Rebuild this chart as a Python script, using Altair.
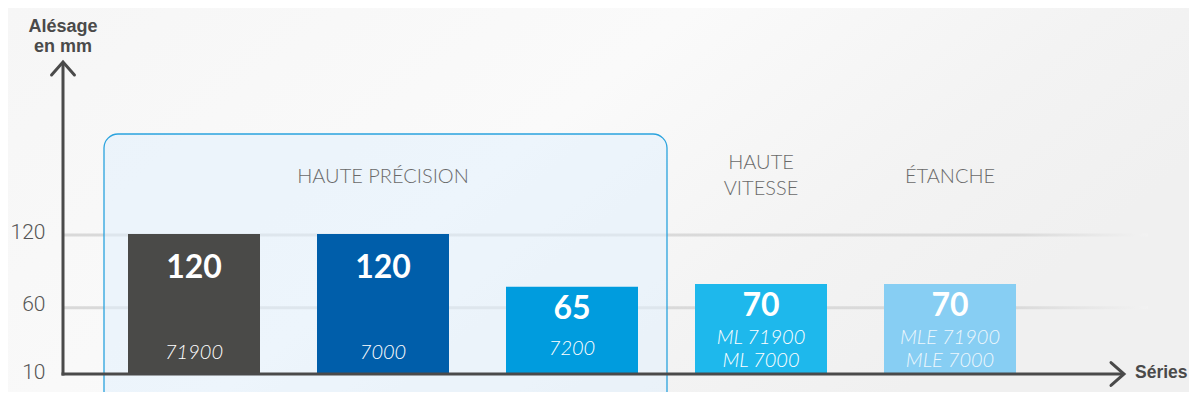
import altair as alt
import pandas as pd

# ---- data ----
series = ["71900", "7000", "7200", "ML 71900\nML 7000", "MLE 71900\nMLE 7000"]
alesage = [120, 120, 65, 70, 70]
bar_colors = ["#4a4a48", "#005eaa", "#009cde", "#1eb8ec", "#87cef3"]
groups = ["HAUTE PRÉCISION", "HAUTE\nVITESSE", "ÉTANCHE"]
group_anchor = ["7000", "ML 71900\nML 7000", "MLE 71900\nMLE 7000"]
y_ticks = [10, 60, 120]
grid_values = [60, 120]
y_title = "Alésage\nen mm"
x_title = "Séries"

bars_df = pd.DataFrame({"series": series, "value": alesage})
groups_df = pd.DataFrame({"group": groups, "anchor": group_anchor})
grid_df = pd.DataFrame({"value": grid_values})
one = pd.DataFrame({"k": [0]})

W, H = 1126, 384
AX = "#4a4a4a"

# the reference axis is not linear (10->60 and 60->120 have nearly equal spacing)
yscale = alt.Scale(domain=[10, 60, 65, 70, 120],
                   range=[366, 298.7, 278.7, 276, 226], zero=False, nice=False)
yaxis = alt.Axis(values=y_ticks, domain=False, ticks=False, grid=False, title=None,
                 labelFont="Roboto", labelFontWeight=300, labelFontSize=21,
                 labelColor="#555555", labelPadding=18, labelOffset=-2, zindex=2)
xscale = alt.Scale(domain=series, range=[65, 953], paddingInner=57 / 189, paddingOuter=0)

Y = alt.Y("value:Q", scale=yscale, axis=yaxis)
X = alt.X("series:N", scale=xscale, axis=None)

bg = alt.Chart(one).mark_rect(
    fill=alt.LinearGradient(
        gradient="linear", x1=0, y1=0, x2=1, y2=0.4,
        stops=[alt.GradientStop(color="#f6f6f6", offset=0),
               alt.GradientStop(color="#fafafa", offset=0.5),
               alt.GradientStop(color="#f3f3f3", offset=0.8),
               alt.GradientStop(color="#f0f0f0", offset=1)])
).encode(x=alt.value(-55), x2=alt.value(W + 2), y=alt.value(0), y2=alt.value(H))

grid = alt.Chart(grid_df).mark_rect(
    yOffset=-0.5, y2Offset=2.5,
    fill=alt.LinearGradient(
        gradient="linear", x1=0, y1=0, x2=1, y2=0,
        stops=[alt.GradientStop(color="#d9d9d9", offset=0),
               alt.GradientStop(color="#dadada", offset=0.88),
               alt.GradientStop(color="#f2f2f2", offset=1)])
).encode(y=Y, y2=alt.Y2("value:Q"), x=alt.value(0), x2=alt.value(1085))

box = alt.Chart(one).mark_rect(
    cornerRadius=14, fill="#e2f1fe", fillOpacity=0.55, stroke="#2aa3de", strokeWidth=1.3
).encode(x=alt.value(41), x2=alt.value(604), y=alt.value(126), y2=alt.value(404))

bars = alt.Chart(bars_df).mark_bar().encode(
    x=X, y=Y, y2=alt.datum(10),
    color=alt.Color("series:N", scale=alt.Scale(domain=series, range=bar_colors), legend=None),
)

num_style = dict(font="Lato", fontWeight="bold", fontSize=32, color="white", baseline="middle")
num_tall = alt.Chart(bars_df).transform_filter(alt.datum.value > 100).mark_text(dy=34, **num_style).encode(
    x=X, y=Y, text="value:Q")
num_short = alt.Chart(bars_df).transform_filter(alt.datum.value < 100).mark_text(dy=22, **num_style).encode(
    x=X, y=Y, text="value:Q")

ser_style = dict(font="Lato", fontStyle="italic", fontWeight=300, fontSize=20, color="white",
                 baseline="middle", lineBreak="\n", lineHeight=23)
multi = "indexof(datum.series, '\\n') >= 0"
single = "indexof(datum.series, '\\n') < 0"
ser_tall = alt.Chart(bars_df).transform_filter(single).transform_filter(alt.datum.value > 100).mark_text(
    dy=-21, **ser_style).encode(x=X, y=alt.datum(10), text="series:N")
ser_short = alt.Chart(bars_df).transform_filter(single).transform_filter(alt.datum.value < 100).mark_text(
    dy=-25, **ser_style).encode(x=X, y=alt.datum(10), text="series:N")
ser_multi = alt.Chart(bars_df).transform_filter(multi).mark_text(dy=-36, **ser_style).encode(
    x=X, y=alt.datum(10), text="series:N",
    opacity=alt.condition(alt.datum.series == series[4], alt.value(0.85), alt.value(1.0)))

grp_style = dict(font="Lato", fontWeight=300, fontSize=20, color="#6a6a6a",
                 baseline="middle", lineBreak="\n", lineHeight=26)
gmulti = "indexof(datum.group, '\\n') >= 0"
gsingle = "indexof(datum.group, '\\n') < 0"
group_single = alt.Chart(groups_df).transform_filter(gsingle).mark_text(**grp_style).encode(
    x=alt.X("anchor:N", scale=xscale, axis=None), y=alt.value(169), text="group:N")
group_multi = alt.Chart(groups_df).transform_filter(gmulti).mark_text(**grp_style).encode(
    x=alt.X("anchor:N", scale=xscale, axis=None), y=alt.value(155), text="group:N")

y_axis_line = alt.Chart(one).mark_rule(color=AX, strokeWidth=3).encode(
    x=alt.value(0), y=alt.value(55), y2=alt.value(367.5))
x_axis_line = alt.Chart(one).mark_rule(color=AX, strokeWidth=3).encode(
    x=alt.value(-1.5), x2=alt.value(1060), y=alt.value(366))
chevron = "M-0.88,1L0,0L0.88,1"
y_arrow = alt.Chart(one).mark_point(shape=chevron, size=676, filled=False, color=AX,
                                    strokeWidth=3, opacity=1, strokeCap="round").encode(
    x=alt.value(0), y=alt.value(54))
x_arrow = alt.Chart(one).mark_point(shape=chevron, size=676, filled=False, color=AX,
                                    strokeWidth=3, opacity=1, angle=90, strokeCap="round").encode(
    x=alt.value(1061), y=alt.value(366))

title_style = dict(font="Liberation Sans", fontWeight="bold", fontSize=18, color=AX)
y_title_txt = alt.Chart(one).mark_text(align="center", baseline="alphabetic", lineBreak="\n",
                                       lineHeight=20, **title_style).encode(
    x=alt.value(0), y=alt.value(24), text=alt.value(y_title))
x_title_txt = alt.Chart(one).mark_text(align="left", baseline="middle",
                                       font="Liberation Sans", fontWeight="bold", fontSize=17.5,
                                       color=AX).encode(
    x=alt.value(1072), y=alt.value(365), text=alt.value(x_title))

chart = alt.layer(
    bg, grid, box, bars, num_tall, num_short, ser_tall, ser_short, ser_multi,
    group_single, group_multi,
    y_axis_line, x_axis_line, y_arrow, x_arrow, y_title_txt, x_title_txt
).properties(
    width=W, height=H, autosize="none",
    padding={"left": 55, "top": 0, "right": 0, "bottom": 0},
    background="#f6f6f6",
).configure_view(stroke=None)

chart.save("out.html", embed_options={"renderer": "svg", "actions": False})
